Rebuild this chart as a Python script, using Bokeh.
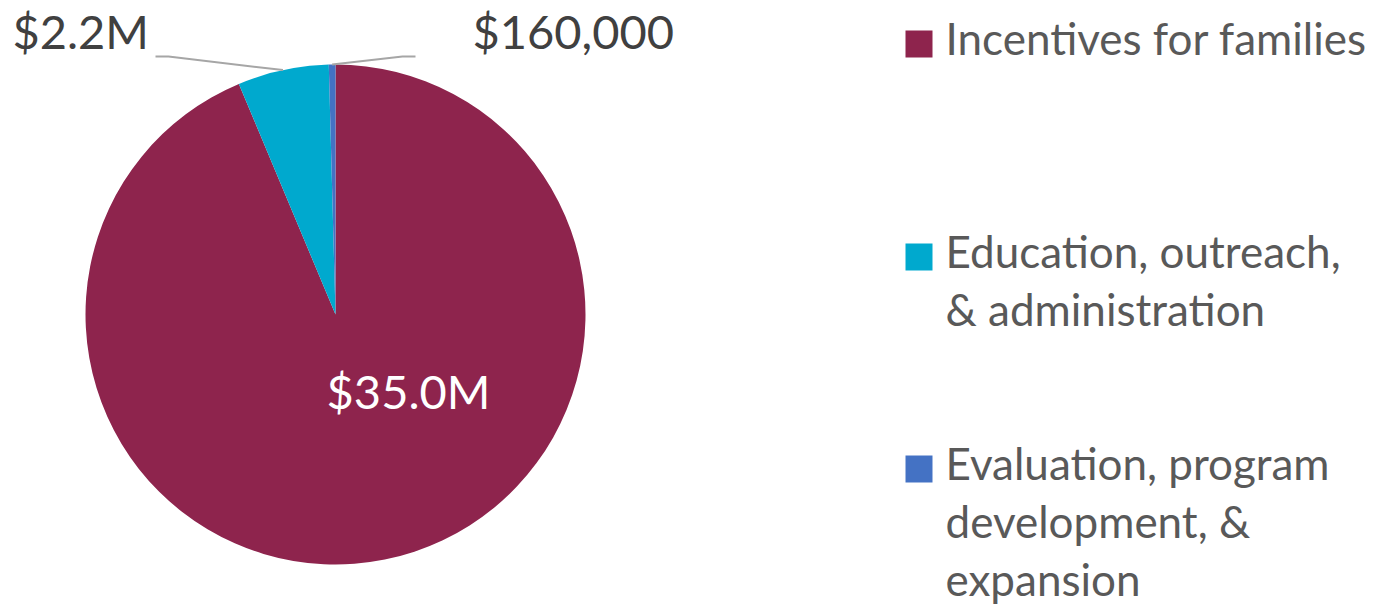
import math
from bokeh.plotting import figure
from bokeh.models import Range1d
from bokeh.core.properties import value
from bokeh.embed import file_html
from bokeh.resources import INLINE

# ---- data ----
categories = ["Incentives for families",
              "Education, outreach, & administration",
              "Evaluation, program development, & expansion"]
amounts = [35.0, 2.2, 0.16]          # $ millions
labels = ["$35.0M", "$2.2M", "$160,000"]
colors = ["#8E244D", "#00A9CE", "#4472C4"]
legend_lines = [["Incentives for families"],
                ["Education, outreach,", "& administration"],
                ["Evaluation, program", "development, &", "expansion"]]

W, H = 1374, 606
FONT = "Lato"
LBL = 47
LEG = 44

def Y(yref):
    return H - yref

def TY(base, size):
    # baseline in reference pixels -> data y, corrected for renderer offset
    return H - base + 0.42 * size

p = figure(width=W, height=H, output_backend="svg", toolbar_location=None,
           x_range=Range1d(0, W), y_range=Range1d(0, H),
           x_axis_type=None, y_axis_type=None, min_border=0)
p.grid.visible = False
p.outline_line_color = None
p.background_fill_color = "white"
p.border_fill_color = "white"

cx, cy, r = 335, Y(314), 250
total = sum(amounts)
starts, ends, mids = [], [], []
cum = 0.0
for a in amounts:
    s = math.pi / 2 - 2 * math.pi * cum / total
    cum += a
    e = math.pi / 2 - 2 * math.pi * cum / total
    starts.append(s); ends.append(e); mids.append((s + e) / 2)

p.wedge(x=[cx] * 3, y=[cy] * 3, radius=r, start_angle=starts, end_angle=ends,
        direction="clock", fill_color=colors, line_color=None)

# data labels
p.text(x=[408], y=[TY(410, LBL)], text=[labels[0]], text_color="white",
       text_font=value(FONT), text_font_size=f"{LBL}px", text_align="center",
       text_baseline="alphabetic")
p.text(x=[12], y=[TY(50, LBL)], text=[labels[1]], text_color="#404040",
       text_font=value(FONT), text_font_size=f"{LBL}px", text_align="left",
       text_baseline="alphabetic")
p.text(x=[472], y=[TY(50, LBL)], text=[labels[2]], text_color="#404040",
       text_font=value(FONT), text_font_size=f"{LBL}px", text_align="left",
       text_baseline="alphabetic")

# leader lines
def edge(i):
    return cx + r * math.cos(mids[i]), cy + r * math.sin(mids[i])
ex1, ey1 = edge(1)
p.line(x=[155, 168, ex1], y=[Y(56), Y(56), ey1], line_color="#A6A6A6", line_width=2)
ex2, ey2 = edge(2)
p.line(x=[415, 402, ex2], y=[Y(56), Y(56), ey2], line_color="#A6A6A6", line_width=2)

# legend
base_first = [56, 269, 481]
for i, lines in enumerate(legend_lines):
    b = base_first[i]
    p.rect(x=[918.5], y=[Y(b - 12.5)], width=27, height=27,
           fill_color=colors[i], line_color=None)
    p.text(x=[945] * len(lines), y=[TY(b + 58 * k, LEG) for k in range(len(lines))],
           text=lines, text_color="#595959", text_font=value(FONT),
           text_font_size=f"{LEG}px", text_align="left", text_baseline="alphabetic")

open("out.html", "w").write(file_html(p, INLINE))
